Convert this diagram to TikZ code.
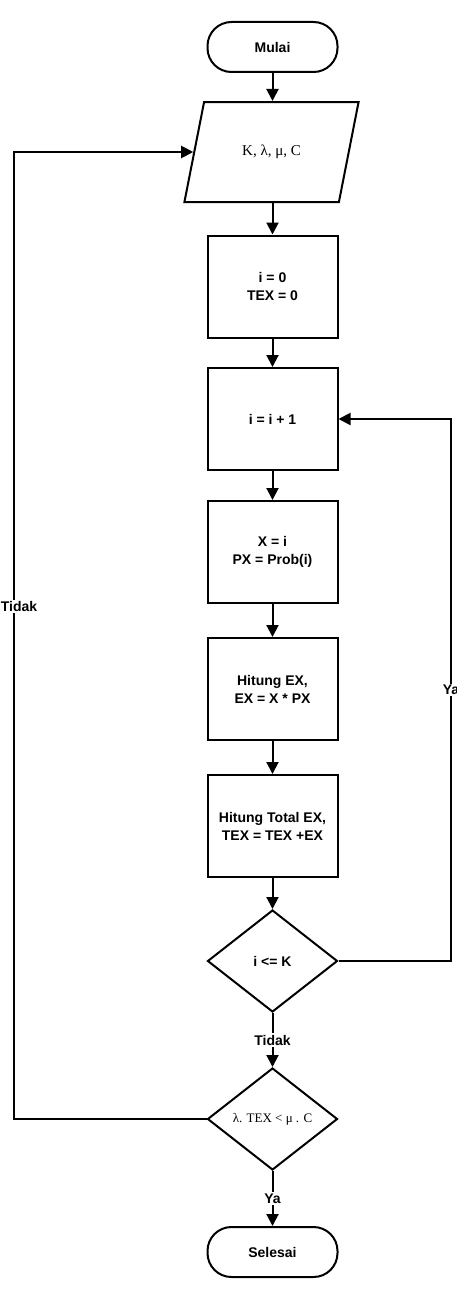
\documentclass[tikz,border=0pt]{standalone}
\usepackage{fontspec}
\setmainfont{Liberation Sans}
\newfontfamily\rumus{Liberation Serif}
\usetikzlibrary{positioning,shapes.geometric,arrows.meta}
\tikzset{
  term/.style  ={rectangle, rounded corners=24pt, draw, line width=2pt,
                 minimum width=130pt, minimum height=50pt,
                 font=\fontsize{14}{17}\selectfont\bfseries},
  proses/.style={rectangle, draw, line width=2pt, align=center,
                 minimum width=130pt, minimum height=102pt,
                 font=\fontsize{14}{18}\selectfont\bfseries},
  masuk/.style ={trapezium, trapezium left angle=65, trapezium right angle=115,
                 trapezium stretches=true, draw, line width=2pt,
                 minimum width=175pt, minimum height=100pt,
                 font=\fontsize{15}{18}\rumus},
  cek/.style   ={diamond, draw, line width=2pt, inner sep=0pt,
                 minimum width=130pt, minimum height=102pt,
                 font=\fontsize{14}{17}\selectfont\bfseries},
  fl/.style    ={-{Triangle[length=12pt,width=12pt]}, line width=2pt},
  lbl/.style   ={fill=white, inner sep=1.5pt, font=\fontsize{14}{17}\selectfont\bfseries}
}
\begin{document}
\begin{tikzpicture}[x=1pt,y=-1pt]
  \useasboundingbox (0,0) rectangle (457,1290);
  % --- start, input
  \node[term]   (mulai) at (272.5,47)   {Mulai};
  \node[masuk]  (inp)   at (271.5,152)  {K, λ, μ, C};
  % --- process column
  \node[proses] (b1)    at (272.5,286.5) {i = 0\\TEX = 0};
  \node[proses] (b2)    at (272.5,419)   {i = i + 1};
  \node[proses] (b3)    at (272.5,552)   {X = i\\PX = Prob(i)};
  \node[proses] (b4)    at (272.5,689)   {Hitung EX,\\EX = X * PX};
  \node[proses] (b5)    at (272.5,826)   {Hitung Total EX,\\TEX = TEX +EX};
  % --- decisions
  \node[cek]    (d1)    at (272.5,961)   {i <= K};
  \node[cek,font=\fontsize{13}{16}\rumus]
                (d2)    at (272.5,1119)  {λ. TEX < μ . C};
  \node[term]   (sel)   at (272.5,1252)  {Selesai};
  % --- loop corners
  \coordinate (kanan) at (451,961);
  \coordinate (kiri)  at (14,1119);

  \draw[fl] (mulai.south) -- (mulai.south |- inp.north);
  \draw[fl] (inp.south -| b1.north) -- (b1.north);
  \draw[fl] (b1)--(b2); \draw[fl] (b2)--(b3);
  \draw[fl] (b3)--(b4); \draw[fl] (b4)--(b5);
  \draw[fl] (b5)--(d1);
  \draw[fl] (d1) -- (d2) node[lbl,midway] {Tidak};
  \draw[fl] (d2) -- (sel) node[lbl,midway] {Ya};
  \draw[fl] (d1.east) -- (kanan) |- (b2.east) node[lbl,pos=0.25] {Ya};
  \draw[fl] (d2.west) -- (kiri) |- (inp.west) node[lbl,pos=0.265,xshift=5pt] {Tidak};
\end{tikzpicture}
\end{document}
